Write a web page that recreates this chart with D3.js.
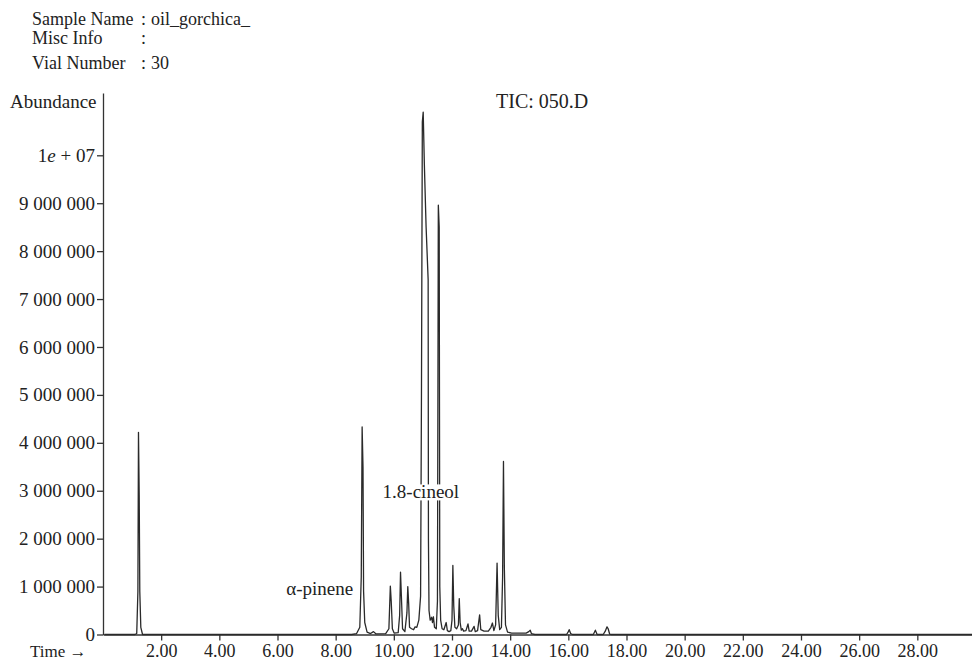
<!DOCTYPE html>
<html>
<head>
<meta charset="utf-8">
<script src="https://cdn.jsdelivr.net/npm/d3@7"></script>
<style>
	body { margin: 0; background: #fff; }
	text { font-family: "Liberation Serif", "Times New Roman", serif; fill: #222; }
	.axis path, .axis line { stroke: #333; stroke-width: 1.3; }
	.axis text { font-size: 18px; fill: #222; }
	.y-axis text { font-size: 19px; }
	.trace { fill: none; stroke: #2a2a2a; stroke-width: 1.3; stroke-linejoin: round; }
</style>
</head>
<body>
<div id="chart-div"></div>
<script>
//Chromatogram data (TIC: 050.D), time in minutes
var retentionTime = [
	0.05, 1.10, 1.16, 1.20, 1.22, 1.245, 1.265, 1.30, 1.36,
	8.55, 8.72, 8.83, 8.88, 8.91, 8.94, 8.96, 9.00, 9.08, 9.20, 9.30, 9.38,
	9.72, 9.83, 9.88, 9.91, 9.95, 10.01, 10.15, 10.20, 10.23, 10.26, 10.30, 10.38,
	10.45, 10.48, 10.51, 10.54, 10.61, 10.68, 10.73, 10.79, 10.86, 10.92,
	10.95, 10.98, 11.01, 11.05, 11.11, 11.18, 11.19, 11.21, 11.25, 11.30, 11.33, 11.36, 11.40, 11.46,
	11.50, 11.53, 11.56, 11.58, 11.61, 11.66, 11.72, 11.80, 11.84, 11.90, 11.96,
	12.00, 12.03, 12.06, 12.10, 12.16, 12.22, 12.25, 12.28, 12.32, 12.36, 12.40, 12.48,
	12.55, 12.59, 12.67, 12.76, 12.80, 12.88, 12.95, 12.99, 13.10, 13.25, 13.34, 13.39, 13.44,
	13.50, 13.55, 13.59, 13.64, 13.70, 13.74, 13.77, 13.80, 13.84, 13.91, 14.05,
	14.55, 14.64, 14.69, 14.73, 14.85, 15.94, 16.00, 16.03, 16.08, 16.14,
	16.86, 16.93, 16.99, 17.20, 17.27, 17.33, 17.37, 17.42, 17.48, 29.88
];

var abundance = [
	0, 0, 20000, 900000, 4220000, 2900000, 900000, 150000, 0,
	0, 20000, 150000, 1200000, 4330000, 3500000, 900000, 250000, 50000, 20000, 60000, 15000,
	20000, 120000, 1010000, 700000, 120000, 30000, 40000, 400000, 1300000, 800000, 120000, 60000,
	450000, 1000000, 650000, 150000, 120000, 100000, 160000, 150000, 300000, 800000,
	5000000, 10700000, 10900000, 9800000, 8500000, 7400000, 2000000, 500000, 300000, 360000, 250000, 370000, 150000, 120000,
	700000, 8960000, 8500000, 1000000, 300000, 120000, 100000, 250000, 80000, 60000, 80000,
	300000, 1440000, 600000, 150000, 120000, 200000, 750000, 250000, 90000, 120000, 70000, 80000,
	220000, 70000, 70000, 170000, 60000, 80000, 410000, 100000, 70000, 70000, 150000, 240000, 80000,
	200000, 1490000, 400000, 100000, 150000, 1200000, 3610000, 1400000, 200000, 50000, 30000,
	30000, 60000, 90000, 20000, 0, 0, 60000, 100000, 20000, 0,
	0, 90000, 0, 0, 70000, 160000, 120000, 10000, 0, 0
];

//Tick values
var timeTicks = [2, 4, 6, 8, 10, 12, 14, 16, 18, 20, 22, 24, 26, 28];
var abundanceTicks = [0, 1000000, 2000000, 3000000, 4000000, 5000000, 6000000, 7000000, 8000000, 9000000, 10000000];

//Peak labels
var peakNames = ["\u03b1-pinene", "1.8-cineol"];
var peakNameTime = [7.45, 10.93];
var peakNameAbundance = [820000, 2840000];

//Header lines
var headerLabels = ["Sample Name", "Misc Info", "Vial Number"];
var headerValues = ["oil_gorchica_", "", "30"];

//Canvas
var w = 972, h = 661;
var plot = {left: 103, right: 972, top: 93, bottom: 634.5};

var svg = d3.select("#chart-div")
	.append("svg")
	.attr("width", w)
	.attr("height", h);

//Scales
var xScale = d3.scaleLinear().domain([0, 29.88]).range([plot.left, plot.right]);
var yScale = d3.scaleLinear().domain([0, 11.3e6]).range([plot.bottom, plot.top]);

//Header text
var headerBase = [25, 44, 69];
headerLabels.forEach(function(d, i) {
	svg.append("text").attr("x", 32).attr("y", headerBase[i]).style("font-size", "18px").text(d);
	svg.append("text").attr("x", 141).attr("y", headerBase[i]).style("font-size", "18px").text(":");
	svg.append("text").attr("x", 151).attr("y", headerBase[i]).style("font-size", "18px").text(headerValues[i]);
});

//Axis titles
svg.append("text").attr("x", 10).attr("y", 108).style("font-size", "19px").text("Abundance");
svg.append("text").attr("x", 496).attr("y", 108).style("font-size", "20px").text("TIC: 050.D");
svg.append("text").attr("x", 30).attr("y", 657).style("font-size", "17px").text("Time \u2192");

//Y axis - spaces as thousands separator, 1e7 written as 1e + 07
var spaceFormat = d3.formatLocale({decimal: ".", thousands: " ", grouping: [3], currency: ["", ""]}).format(",d");

var yAxis = d3.axisLeft(yScale)
	.tickValues(abundanceTicks)
	.tickSize(6)
	.tickSizeOuter(0)
	.tickPadding(2)
	.tickFormat(function(d) { return d === 1e7 ? "" : spaceFormat(d); });

var yG = svg.append("g")
	.attr("class", "axis y-axis")
	.attr("transform", "translate(" + plot.left + ",0)")
	.call(yAxis);

yG.selectAll(".tick")
	.filter(function(d) { return d === 1e7; })
	.select("text")
	.call(function(t) {
		t.append("tspan").text("1");
		t.append("tspan").style("font-style", "italic").text("e");
		t.append("tspan").text(" + 07");
	});

//X axis
var xAxis = d3.axisBottom(xScale)
	.tickValues(timeTicks)
	.tickSize(6)
	.tickSizeOuter(0)
	.tickPadding(4)
	.tickFormat(d3.format(".2f"));

svg.append("g")
	.attr("class", "axis x-axis")
	.attr("transform", "translate(0," + plot.bottom + ")")
	.call(xAxis);

//Trace
var points = retentionTime.map(function(t, i) { return [t, abundance[i]]; });

var line = d3.line()
	.curve(d3.curveLinear)
	.x(function(d) { return xScale(d[0]); })
	.y(function(d) { return yScale(d[1]); });

svg.append("path")
	.datum(points)
	.attr("class", "trace")
	.attr("d", line);

//Peak labels with white backing so the trace stops behind them
peakNames.forEach(function(name, i) {
	var g = svg.append("g");
	var label = g.append("text")
		.attr("x", xScale(peakNameTime[i]))
		.attr("y", yScale(peakNameAbundance[i]))
		.attr("text-anchor", "middle")
		.style("font-size", "19px")
		.text(name);
	var box = label.node().getBBox();
	g.insert("rect", "text")
		.attr("x", box.x)
		.attr("y", box.y + 3)
		.attr("width", box.width)
		.attr("height", box.height - 5)
		.attr("fill", "#fff");
});
</script>
</body>
</html>
